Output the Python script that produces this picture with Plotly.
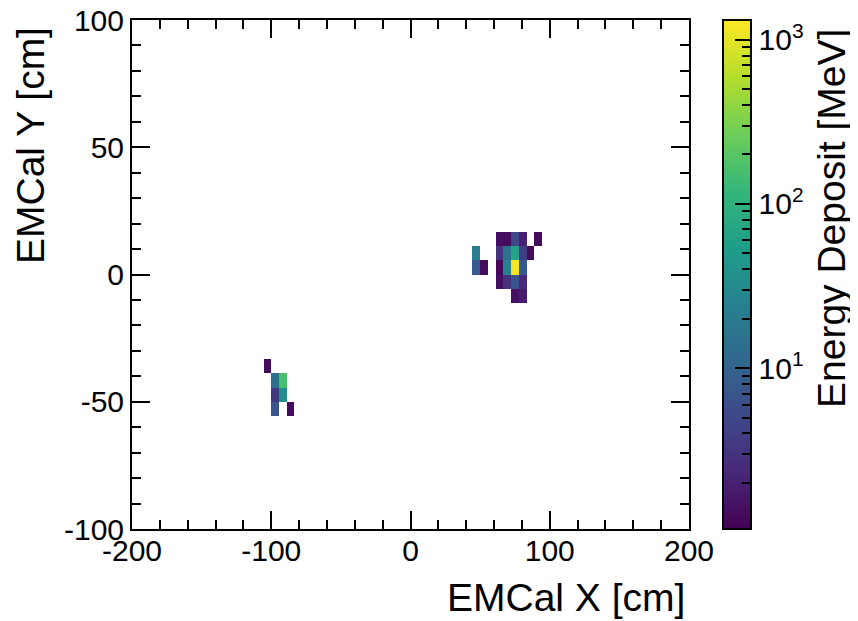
import math
import plotly.graph_objects as go

# ---------------- data ----------------
x_range = [-200, 200]
y_range = [-100, 100]
n_xbins = 72
n_ybins = 36

# tower centres [cm] and deposited energy [MeV]
cell_x_cm = [63.9, 69.4, 75.0, 80.6, 91.7,
             47.2, 63.9, 69.4, 75.0, 80.6, 86.1,
             47.2, 52.8, 63.9, 69.4, 75.0, 80.6,
             63.9, 69.4, 75.0, 80.6,
             75.0, 80.6,
             -102.8,
             -97.2, -91.7,
             -97.2, -91.7,
             -97.2, -86.1]
cell_y_cm = [13.9, 13.9, 13.9, 13.9, 13.9,
             8.3, 8.3, 8.3, 8.3, 8.3, 8.3,
             2.8, 2.8, 2.8, 2.8, 2.8, 2.8,
             -2.8, -2.8, -2.8, -2.8,
             -8.3, -8.3,
             -36.1,
             -41.7, -41.7,
             -47.2, -47.2,
             -52.8, -52.8]
energy_mev = [1.4, 1.3, 5.0, 2.0, 1.3,
              22.0, 3.0, 15.0, 65.0, 4.0, 1.3,
              8.0, 1.3, 1.2, 25.0, 1250.0, 8.0,
              1.4, 3.0, 7.0, 2.5,
              1.4, 1.8,
              1.3,
              14.0, 160.0,
              3.5, 35.0,
              7.0, 1.3]

x_ticks = [-200, -100, 0, 100, 200]
x_tick_text = ["-200", "-100", "0", "100", "200"]
y_ticks = [-100, -50, 0, 50, 100]
y_tick_text = ["-100", "-50", "0", "50", "100"]
cbar_major = [1, 2, 3]
cbar_major_text = ["10<sup>1</sup>", "10<sup>2</sup>", "10<sup>3</sup>"]
log_zmin, log_zmax = 0.02, 3.12

# ---------------- build histogram grid ----------------
dx = (x_range[1] - x_range[0]) / n_xbins
dy = (y_range[1] - y_range[0]) / n_ybins
z = [[None] * n_xbins for _ in range(n_ybins)]
for xc, yc, e in zip(cell_x_cm, cell_y_cm, energy_mev):
    i = int((xc - x_range[0]) // dx)
    j = int((yc - y_range[0]) // dy)
    z[j][i] = math.log10(e)

cbar_minor = []
for k in range(0, 4):
    for m in range(2, 10):
        v = k + math.log10(m)
        if log_zmin <= v <= log_zmax:
            cbar_minor.append(v)

FONT = "Liberation Sans, Arial, Helvetica, sans-serif"
OFF = 8  # page body margin
W, H = 858 - OFF, 621 - OFF
L, T = 132 - OFF, 20 - OFF
pw, ph = 557, 509
R = W - L - pw
B = H - T - ph

def px_x(px):
    # px given in reference-window pixels
    return (px - OFF - L) / pw

def px_y(py):
    return (H - B - (py - OFF)) / ph

cb_common = dict(
    thickness=28, thicknessmode="pixels",
    len=ph, lenmode="pixels",
    x=px_x(723), xanchor="left", xpad=0,
    y=0.5, yanchor="middle", ypad=0,
)

fig = go.Figure()
fig.add_trace(go.Heatmap(
    z=z, x0=x_range[0] + dx / 2, dx=dx, y0=y_range[0] + dy / 2, dy=dy,
    colorscale="Viridis", zmin=log_zmin, zmax=log_zmax,
    hoverinfo="skip",
    colorbar=dict(
        **cb_common,
        outlinewidth=2, outlinecolor="black",
        tickmode="array", tickvals=cbar_major, ticktext=cbar_major_text,
        ticks="inside", ticklen=17, tickwidth=1.5, tickcolor="black",
        ticklabeloverflow="allow",
        tickfont=dict(family=FONT, size=30, color="black"),
    ),
))
fig.add_trace(go.Heatmap(
    z=z, x0=x_range[0] + dx / 2, dx=dx, y0=y_range[0] + dy / 2, dy=dy,
    colorscale=[[0, "rgba(0,0,0,0)"], [1, "rgba(0,0,0,0)"]],
    zmin=log_zmin, zmax=log_zmax, hoverinfo="skip",
    colorbar=dict(
        **cb_common,
        outlinewidth=0,
        tickmode="array", tickvals=cbar_minor,
        ticks="inside", ticklen=9, tickwidth=1.5, tickcolor="black",
        showticklabels=False,
    ),
))

axis_common = dict(
    showline=True, linewidth=2, linecolor="black", mirror="allticks",
    ticks="inside", ticklen=18, tickwidth=1.5, tickcolor="black",
    showgrid=False, zeroline=False, ticklabeloverflow="allow",
    tickfont=dict(family=FONT, size=30, color="black"),
)
fig.update_xaxes(range=x_range, tickmode="array", tickvals=x_ticks,
                 ticktext=x_tick_text, ticklabelstandoff=-6,
                 minor=dict(dtick=20, tick0=0, ticks="inside", ticklen=9,
                            tickwidth=1.5, tickcolor="black", showgrid=False),
                 **axis_common)
fig.update_yaxes(range=y_range, tickmode="array", tickvals=y_ticks,
                 ticktext=y_tick_text,
                 minor=dict(dtick=10, tick0=0, ticks="inside", ticklen=9,
                            tickwidth=1.5, tickcolor="black", showgrid=False),
                 **axis_common)

title_font = dict(family=FONT, size=39, color="black")
fig.add_annotation(text="EMCal X [cm]", x=px_x(565.5), y=px_y(597),
                   xref="paper", yref="paper", showarrow=False,
                   xanchor="center", yanchor="middle", font=title_font)
fig.add_annotation(text="EMCal Y [cm]", x=px_x(30), y=px_y(146),
                   xref="paper", yref="paper", showarrow=False, textangle=-90,
                   xanchor="center", yanchor="middle", font=title_font)
fig.add_annotation(text="Energy Deposit [MeV]", x=px_x(831.5), y=px_y(218.5),
                   xref="paper", yref="paper", showarrow=False, textangle=-90,
                   xanchor="center", yanchor="middle", font=title_font)

fig.update_layout(
    width=W, height=H,
    margin=dict(l=L, r=R, t=T, b=B, autoexpand=False),
    paper_bgcolor="white", plot_bgcolor="white",
    font=dict(family=FONT, color="black"),
    hovermode=False, showlegend=False,
)
fig.write_html("out.html")
